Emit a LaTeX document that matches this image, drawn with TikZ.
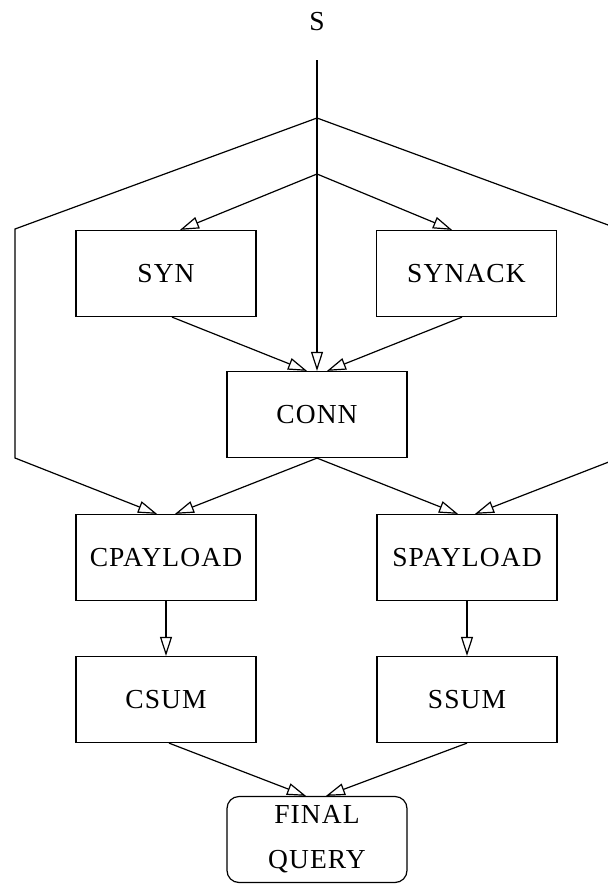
\documentclass[tikz,border=0pt]{standalone}
\usepackage{fontspec}
\setmainfont[LetterSpace=4]{Liberation Serif}
\usetikzlibrary{arrows.meta}
\begin{document}
\begin{tikzpicture}[x=1pt, y=-1pt,
  every node/.style={font=\fontsize{27.5}{45}\selectfont, inner sep=0pt},
  stagebox/.style={draw, line width=1.2pt, minimum width=180pt, minimum height=86pt},
  finalbox/.style={stagebox, rounded corners=12pt, align=center},
  flow/.style={line width=1.2pt, -{Triangle[open, length=19pt, width=12pt, line width=1.2pt]}},
  wire/.style={line width=1.2pt}]
  \useasboundingbox (0,0) rectangle (608,884);

  % source label and its trunk
  \node (S) at (317,22) {S};
  \coordinate (s0) at (317,60);
  \coordinate (j1) at (317,118);
  \coordinate (j2) at (317,174);

  % stage boxes
  \node[stagebox] (SYN)      at (166,273.5) {SYN};
  \node[stagebox] (SYNACK)   at (466.5,273.5) {SYNACK};
  \node[stagebox] (CONN)     at (317,414.5) {CONN};
  \node[stagebox] (CPAYLOAD) at (166,557.5) {CPAYLOAD};
  \node[stagebox] (SPAYLOAD) at (467,557.5) {SPAYLOAD};
  \node[stagebox] (CSUM)     at (166,699.5) {CSUM};
  \node[stagebox] (SSUM)     at (467,699.5) {SSUM};
  \node[finalbox] (FINAL)    at (317,839.5) {FINAL\\QUERY};

  % bends of the two outer bypass lines
  \coordinate (l1) at (15,229);
  \coordinate (l2) at (15,458);
  \coordinate (r1) at (619,229);
  \coordinate (r2) at (619,458);

  % trunk straight into CONN
  \draw[flow] (s0) -- (CONN.north);

  % handshake branches
  \draw[flow] (j2) -- ([xshift=14pt]SYN.north);
  \draw[flow] (j2) -- ([xshift=-14.5pt]SYNACK.north);
  \draw[flow] ([xshift=6pt]SYN.south) -- ([xshift=-10pt]CONN.north);
  \draw[flow] ([xshift=-4.5pt]SYNACK.south) -- ([xshift=10pt]CONN.north);

  % outer bypass lines
  \draw[flow] (j1) -- (l1) -- (l2) -- ([xshift=-9pt]CPAYLOAD.north);
  \draw[flow] (j1) -- (r1) -- (r2) -- ([xshift=8pt]SPAYLOAD.north);

  % CONN to payload stages
  \draw[flow] (CONN.south) -- ([xshift=9pt]CPAYLOAD.north);
  \draw[flow] (CONN.south) -- ([xshift=-9pt]SPAYLOAD.north);

  % payload to checksums
  \draw[flow] (CPAYLOAD.south) -- (CSUM.north);
  \draw[flow] (SPAYLOAD.south) -- (SSUM.north);

  % checksums to final query
  \draw[flow] ([xshift=3pt]CSUM.south) -- ([xshift=-11pt]FINAL.north);
  \draw[flow] (SSUM.south) -- ([xshift=9pt]FINAL.north);
\end{tikzpicture}
\end{document}
